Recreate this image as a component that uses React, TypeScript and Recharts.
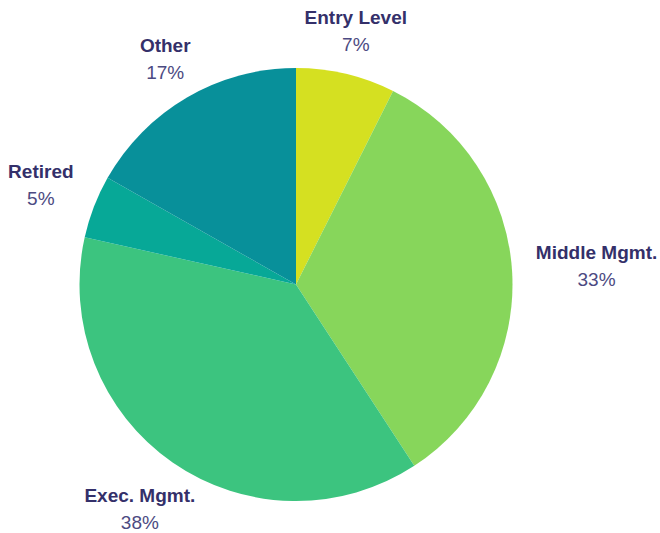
import React from 'react';
import { PieChart, Pie, Cell } from 'recharts';

const categories = ['Entry Level', 'Middle Mgmt.', 'Exec. Mgmt.', 'Retired', 'Other'];
const shares = [7.4, 33.4, 37.7, 4.7, 16.8];
const colors = ['#d5e021', '#87d65b', '#3cc47f', '#07a897', '#08909a'];

const data = categories.map((name, i) => ({ name, value: shares[i] }));

const RAD = Math.PI / 180;
const FONT = "'Liberation Sans', Arial, sans-serif";

let ctx: CanvasRenderingContext2D | null = null;
const measure = (text: string, bold: boolean) => {
  if (typeof document !== 'undefined') {
    if (!ctx) ctx = document.createElement('canvas').getContext('2d');
    if (ctx) {
      ctx.font = `${bold ? 'bold ' : ''}19px ${FONT}`;
      return ctx.measureText(text).width;
    }
  }
  return text.length * 9.7;
};

const renderLabel = (props: any) => {
  const { cx, cy, midAngle, name, value } = props;
  const pct = `${Math.round(value)}%`;
  const w = Math.max(measure(String(name), true), measure(pct, false));
  const sinA = Math.cos(-midAngle * RAD);
  const cosA = -Math.sin(-midAngle * RAD);
  const r = 240 + (w / 2) * Math.abs(sinA) + (cosA > 0 ? 8 : 3) * Math.abs(cosA);
  const x = cx + r * sinA;
  const y = cy - r * cosA;
  return (
    <g>
      <text x={x} y={y - 8} textAnchor="middle" fontFamily={FONT} fontSize={19} fontWeight="bold" fill="#34306a">
        {name}
      </text>
      <text x={x} y={y + 19} textAnchor="middle" fontFamily={FONT} fontSize={19} fill="#4c4a82">
        {pct}
      </text>
    </g>
  );
};

export default function App() {
  return (
    <div style={{ position: 'fixed', left: 0, top: 0, width: 660, height: 533, background: '#fff' }}>
      <PieChart width={660} height={533} margin={{ top: 0, right: 0, bottom: 0, left: 0 }}>
        <Pie
          data={data}
          dataKey="value"
          nameKey="name"
          cx={296}
          cy={284.5}
          outerRadius={216.5}
          startAngle={90}
          endAngle={-270}
          stroke="none"
          label={renderLabel}
          labelLine={false}
          isAnimationActive={false}
        >
          {data.map((d, i) => (
            <Cell key={d.name} fill={colors[i]} />
          ))}
        </Pie>
      </PieChart>
    </div>
  );
}
